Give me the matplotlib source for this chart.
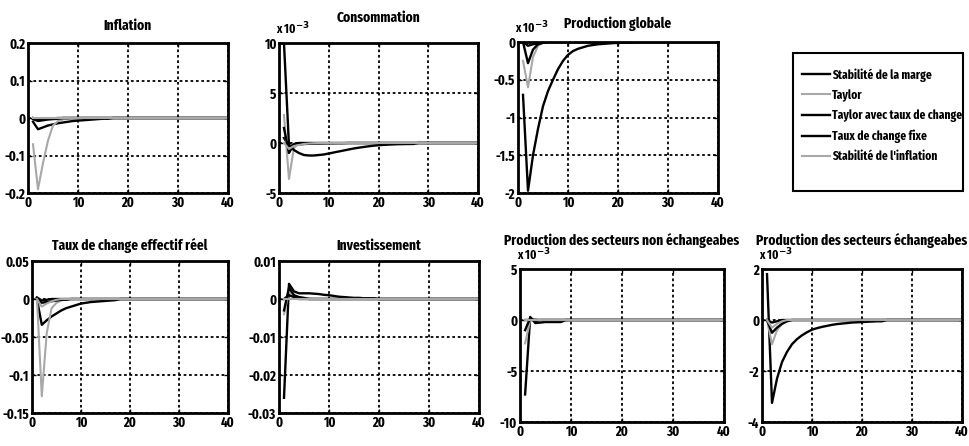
import numpy as np
import matplotlib
matplotlib.use("Agg")
import matplotlib.pyplot as plt
from matplotlib.patches import Rectangle
from matplotlib.ticker import FuncFormatter

plt.rcParams['font.family'] = ['Fira Sans Extra Condensed', 'DejaVu Sans']
plt.rcParams['font.weight'] = 'bold'
plt.rcParams['axes.unicode_minus'] = False

# impulse responses, periods 1..N (zero afterwards)
labels = ["Stabilité de la marge", "Taylor", "Taylor avec taux de change",
          "Taux de change fixe", "Stabilité de l'inflation"]

inflation = [
    [-0.01, -0.03, -0.025, -0.02, -0.017, -0.014, -0.012, -0.01, -0.008,
     -0.007, -0.006, -0.005, -0.004, -0.003, -0.002, -0.002],
    [-0.07, -0.19, -0.12, -0.06, -0.02, -0.008, -0.004, -0.002],
    [-0.003, -0.008, -0.006, -0.004, -0.003, -0.002],
    [0.0, -0.004, -0.003, -0.002, -0.001],
    [0.0],
]
consommation = [  # x 10^-3
    [0.5, -0.3, -0.2, -0.15, -0.1, -0.08, -0.06, -0.05, -0.04, -0.03, -0.03,
     -0.02, -0.02],
    [2.8, -3.6, -0.5, 0.0],
    [1.5, -1.0, -0.1, 0.0],
    [10.0, -0.2, -0.7, -1.0, -1.2, -1.25, -1.25, -1.2, -1.15, -1.05, -0.95,
     -0.85, -0.75, -0.65, -0.55, -0.47, -0.4, -0.33, -0.27, -0.22, -0.19,
     -0.16, -0.14, -0.12, -0.11, -0.1, -0.1],
    [0.0, -0.6, -0.3, -0.2, -0.1, -0.05, -0.02],
]
production = [  # x 10^-3
    [-0.7, -1.97, -1.5, -1.15, -0.85, -0.65, -0.5, -0.36, -0.25, -0.17,
     -0.12, -0.09, -0.07, -0.05, -0.04, -0.03, -0.025, -0.02, -0.015,
     -0.012, -0.01, -0.008, -0.006],
    [-0.25, -0.6, -0.2, -0.05, -0.01],
    [0.0, -0.28, -0.1, -0.03, -0.01],
    [0.0, -0.05, -0.03, -0.02, -0.01],
    [0.0],
]
tcer = [
    [0.0, -0.034, -0.028, -0.023, -0.019, -0.015, -0.012, -0.01, -0.008,
     -0.006, -0.005, -0.004, -0.0035, -0.003, -0.0025, -0.002, -0.0015],
    [0.002, -0.128, -0.045, -0.012, -0.005, -0.002],
    [0.0, -0.005, -0.004, -0.003, -0.002, -0.001, -0.001],
    [0.002, -0.002, -0.001, 0.0],
    [0.0, -0.01, -0.006, -0.003, -0.001],
]
investissement = [
    [-0.026, 0.004, 0.002, 0.0015, 0.0015, 0.0015, 0.0014, 0.0013, 0.0011,
     0.001, 0.0008, 0.0006, 0.0005, 0.0004, 0.0003, 0.0003, 0.0002, 0.0002,
     0.0002],
    [-0.004, 0.002, 0.0008, 0.0004, 0.0002, 0.0001],
    [-0.003, 0.003, 0.001, 0.0005, 0.0003],
    [0.0, 0.001, 0.0005],
    [0.0],
]
non_echang = [  # x 10^-3
    [-7.3, 0.3, -0.3, -0.25, -0.2, -0.2, -0.2, -0.2],
    [-2.3, 0.0, 0.1, 0.0],
    [-1.0, 0.2, -0.1, 0.0],
    [0.0],
    [0.0],
]
echang = [  # x 10^-3
    [1.8, -3.25, -2.3, -1.65, -1.25, -0.95, -0.75, -0.6, -0.48, -0.38,
     -0.32, -0.27, -0.23, -0.19, -0.16, -0.14, -0.12, -0.1, -0.09, -0.08,
     -0.07, -0.06, -0.05, -0.05],
    [0.0, -0.95, -0.4, -0.15, -0.05],
    [0.0, -0.5, -0.3, -0.15, -0.05],
    [0.0, -0.1, -0.05],
    [0.0, -0.3, -0.15, -0.05],
]

horizon = 40
colors = ['black', '#a8a8a8', 'black', 'black', '#a8a8a8']
widths = [1.7, 1.5, 1.7, 1.7, 1.5]

W, H = 969, 446
fig = plt.figure(figsize=(W / 100, H / 100), dpi=100)


def box(l, t, r, b):
    return [l / W, 1 - b / H, (r - l) / W, (b - t) / H]


panels = [
    ("Inflation", inflation, (-0.2, 0.2), [-0.2, -0.1, 0, 0.1, 0.2], False, box(28, 43, 228, 193), 9.5),
    ("Consommation", consommation, (-5, 10), [-5, 0, 5, 10], True, box(279, 43, 478, 193), 15),
    ("Production globale", production, (-2, 0), [-2, -1.5, -1, -0.5, 0], True, box(518, 42, 718, 193), 10),
    ("Taux de change effectif réel", tcer, (-0.15, 0.05), [-0.15, -0.1, -0.05, 0, 0.05], False, box(32, 261, 228, 413), 8),
    ("Investissement", investissement, (-0.03, 0.01), [-0.03, -0.02, -0.01, 0, 0.01], False, box(279, 261, 479, 413), 8),
    ("Production des secteurs non échangeabes", non_echang, (-10, 5), [-10, -5, 0, 5], True, box(520, 269, 724, 422), 17),
    ("Production des secteurs échangeabes", echang, (-4, 2), [-4, -2, 0, 2], True, box(762, 269, 962, 422), 17),
]

fmt = FuncFormatter(lambda v, p: f"{v:g}")
lines = []
for title, series, ylim, yticks, scaled, pos, pad in panels:
    ax = fig.add_axes(pos)
    for k, vals in enumerate(series):
        y = np.zeros(horizon + 1)
        y[1:len(vals) + 1] = vals
        x = np.arange(horizon + 1)
        ln, = ax.plot(x[1:], y[1:], color=colors[k], lw=widths[k], label=labels[k])
        if len(lines) < 5:
            lines.append(ln)
    ax.set_xlim(0, horizon)
    ax.set_ylim(*ylim)
    ax.set_xticks([0, 10, 20, 30, 40])
    ax.set_yticks(yticks)
    ax.xaxis.set_major_formatter(fmt)
    ax.yaxis.set_major_formatter(fmt)
    ax.grid(True, color='black', linestyle=(0, (1.5, 1.5)), linewidth=1.3)
    ax.tick_params(direction='in', length=3, width=1, labelsize=10,
                   top=True, right=True, pad=2)
    for s in ax.spines.values():
        s.set_linewidth(2)
    ax.set_title(title, fontsize=10.5, fontweight='bold', pad=pad)
    if scaled:
        ax.annotate(r"x 10$^{-3}$", xy=(0, 1), xycoords='axes fraction',
                    xytext=(-2, 4), textcoords='offset points',
                    ha='left', va='bottom', fontsize=9)

# legend box (drawn separately to match the tall frame)
fig.add_artist(Rectangle((793 / W, 1 - 191 / H), 170 / W, 138 / H,
                         transform=fig.transFigure, fill=False,
                         edgecolor='black', linewidth=1.5))
fig.legend(handles=lines, labels=labels, loc='upper left',
           bbox_to_anchor=(797 / W, 1 - 63 / H), frameon=False,
           fontsize=9, handlelength=2.2, handletextpad=0.2,
           labelspacing=0.6, borderaxespad=0)

fig.savefig("out.png", dpi=100)
